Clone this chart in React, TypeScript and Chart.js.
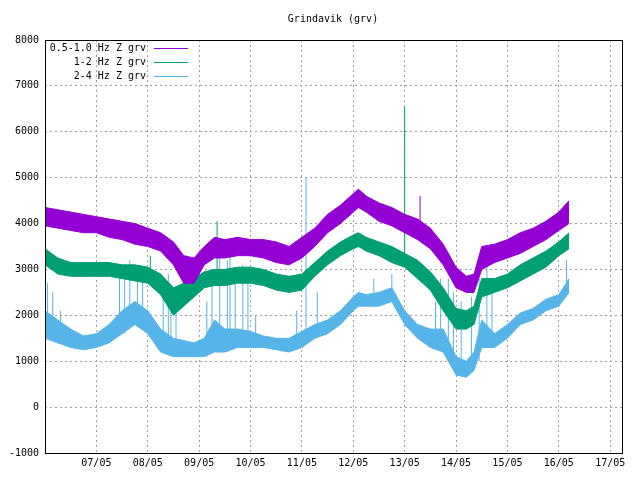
import React, { useEffect, useRef } from "react";
import { Chart, registerables } from "chart.js";
Chart.register(...registerables);

const TITLE = "Grindavik (grv)";
const LABELS = ["0.5-1.0 Hz Z grv", "1-2 Hz Z grv", "2-4 Hz Z grv"];
const COLORS = ["#9400d3", "#009e73", "#56b4e9"];
const XTICKS = [7, 8, 9, 10, 11, 12, 13, 14, 15, 16, 17];
const TICK_LABELS = ["07/05", "08/05", "09/05", "10/05", "11/05", "12/05", "13/05", "14/05", "15/05", "16/05", "17/05"];

const T = [6.0, 6.25, 6.5, 6.75, 7.0, 7.25, 7.5, 7.75, 8.0, 8.25, 8.5, 8.7, 8.9, 9.1, 9.3, 9.5, 9.75, 10.0, 10.25, 10.5, 10.75, 11.0, 11.25, 11.5, 11.75, 12.0, 12.1, 12.25, 12.5, 12.75, 13.0, 13.25, 13.5, 13.75, 14.0, 14.2, 14.35, 14.5, 14.75, 15.0, 15.25, 15.5, 15.75, 16.0, 16.2];
const P_HI = [4350, 4300, 4250, 4200, 4150, 4100, 4050, 4000, 3900, 3800, 3600, 3300, 3250, 3500, 3700, 3650, 3700, 3650, 3650, 3600, 3500, 3700, 3900, 4200, 4400, 4650, 4750, 4600, 4450, 4350, 4200, 4100, 3900, 3550, 3050, 2850, 2900, 3500, 3550, 3650, 3800, 3900, 4050, 4250, 4500];
const P_LO = [3950, 3900, 3850, 3800, 3800, 3700, 3650, 3550, 3500, 3400, 3100, 2700, 2700, 3100, 3250, 3250, 3300, 3300, 3250, 3150, 3100, 3250, 3500, 3800, 4000, 4250, 4350, 4250, 4050, 3950, 3800, 3650, 3450, 3100, 2600, 2500, 2500, 3000, 3150, 3250, 3350, 3500, 3650, 3850, 4000];
const G_HI = [3450, 3250, 3150, 3150, 3150, 3150, 3100, 3100, 3050, 2900, 2600, 2700, 2800, 2950, 3000, 3000, 3050, 3050, 3000, 2900, 2850, 2900, 3150, 3400, 3600, 3750, 3800, 3700, 3600, 3500, 3350, 3200, 2950, 2600, 2150, 2100, 2200, 2800, 2800, 2900, 3100, 3250, 3400, 3600, 3800];
const G_LO = [3100, 2900, 2850, 2850, 2850, 2850, 2800, 2750, 2700, 2450, 2000, 2200, 2400, 2600, 2650, 2650, 2700, 2700, 2650, 2550, 2500, 2550, 2850, 3100, 3300, 3450, 3500, 3400, 3300, 3150, 3050, 2800, 2550, 2100, 1700, 1700, 1800, 2400, 2500, 2600, 2750, 2900, 3050, 3300, 3450];
const B_HI = [2100, 1900, 1700, 1550, 1600, 1800, 2100, 2300, 2100, 1700, 1500, 1450, 1400, 1500, 1900, 1700, 1700, 1650, 1550, 1500, 1500, 1650, 1800, 1900, 2100, 2400, 2500, 2450, 2500, 2600, 2100, 1800, 1700, 1700, 1100, 1000, 1200, 1900, 1600, 1800, 2050, 2150, 2350, 2450, 2800];
const B_LO = [1500, 1400, 1300, 1250, 1300, 1400, 1600, 1800, 1600, 1200, 1100, 1100, 1100, 1100, 1200, 1200, 1300, 1300, 1300, 1250, 1200, 1300, 1500, 1600, 1800, 2100, 2200, 2200, 2200, 2300, 1800, 1500, 1300, 1200, 700, 650, 800, 1300, 1300, 1500, 1800, 1900, 2100, 2200, 2500];
const P_SPIKES: [number, number, number][] = [[13.3, 3900, 4600], [8.75, 2800, 3300]];
const G_SPIKES: [number, number, number][] = [[13.0, 3200, 6550], [9.35, 2700, 4050], [8.05, 2700, 3300]];
const B_SPIKES: [number, number, number][] = [
  [6.05, 1500, 2700], [6.15, 1500, 2500], [6.3, 1400, 2100], [7.45, 1600, 3000], [7.55, 1600, 2900], [7.65, 1700, 3200], [7.8, 1800, 3000], [7.9, 1700, 2800],
  [8.3, 1200, 2500], [8.4, 1200, 2900], [8.45, 1200, 2600], [8.55, 1100, 2200], [9.15, 1100, 2300], [9.25, 1200, 3000], [9.4, 1200, 3300], [9.55, 1200, 3200], [9.6, 1300, 3400], [9.7, 1300, 3000], [9.85, 1300, 3100], [9.95, 1300, 2900], [10.1, 1300, 2000],
  [10.9, 1300, 2100], [11.08, 1600, 5000], [11.3, 1600, 2500], [12.4, 2200, 2800], [12.75, 2300, 2900], [13.6, 1300, 2300], [13.7, 1300, 2800], [13.85, 1200, 2800], [13.95, 900, 2500],
  [14.1, 700, 2300], [14.3, 800, 2400], [14.45, 1000, 2800], [14.6, 1500, 3300], [14.7, 1400, 2500], [16.15, 2500, 3200],
];

function pts(y: number[]) { return T.map((t, i) => ({ x: t, y: y[i] })); }
function spikes(s: [number, number, number][]) {
  const out: any[] = [];
  s.forEach(([t, a, b]) => { out.push({ x: t, y: a }, { x: t, y: b }, { x: t, y: null }); });
  return out;
}

export default function App() {
  const ref = useRef<HTMLCanvasElement>(null);
  useEffect(() => {
    const font = "'DejaVu Sans Mono', monospace";
    const sets: any[] = [];
    const series = [[P_HI, P_LO, P_SPIKES], [G_HI, G_LO, G_SPIKES], [B_HI, B_LO, B_SPIKES]] as const;
    series.forEach(([hi, lo, sp], k) => {
      const c = COLORS[k];
      sets.push({ data: pts(hi as number[]), borderColor: c, borderWidth: 1, pointRadius: 0, fill: false });
      sets.push({ data: pts(lo as number[]), borderColor: c, borderWidth: 1, pointRadius: 0, fill: "-1", backgroundColor: c });
      sets.push({ data: spikes(sp as any), borderColor: c, borderWidth: 1, pointRadius: 0, fill: false, spanGaps: false });
    });
    const deco = {
      id: "deco",
      afterDraw(ch: any) {
        const ctx = ch.ctx;
        const a = ch.chartArea;
        ctx.save();
        ctx.strokeStyle = "#000";
        ctx.lineWidth = 1;
        ctx.strokeRect(Math.round(a.left) + 0.5, Math.round(a.top) + 0.5, Math.round(a.right - a.left), Math.round(a.bottom - a.top));
        ctx.fillStyle = "#000";
        ctx.font = `10px ${font}`;
        ctx.textAlign = "center";
        ctx.textBaseline = "middle";
        ctx.fillText(TITLE, 333, 19);
        ctx.textAlign = "right";
        LABELS.forEach((l, i) => {
          const y = 48 + i * 14;
          ctx.fillStyle = "#000";
          ctx.fillText(l, 146, y);
          ctx.strokeStyle = COLORS[i];
          ctx.beginPath();
          ctx.moveTo(154, y + 0.5);
          ctx.lineTo(188, y + 0.5);
          ctx.stroke();
        });
        ctx.restore();
      },
    };
    const chart = new Chart(ref.current!, {
      type: "line",
      data: { datasets: sets },
      plugins: [deco],
      options: {
        animation: false,
        responsive: false,
        devicePixelRatio: 1,
        layout: { padding: { top: 40, right: 18, left: 0, bottom: 0 } },
        plugins: { legend: { display: false }, tooltip: { enabled: false } },
        scales: {
          x: {
            type: "linear", min: 6, max: 17.23,
            afterBuildTicks: (s: any) => { s.ticks = XTICKS.map((v) => ({ value: v })); },
            afterFit: (s: any) => { s.height = 27; },
            ticks: { callback: (v: any) => TICK_LABELS[XTICKS.indexOf(v)] ?? "", color: "#000", font: { family: font, size: 10 }, maxRotation: 0, padding: 4 },
            grid: { color: "#a0a0a0", drawTicks: false } as any,
            border: { display: false, dash: [2, 3] } as any,
          },
          y: {
            min: -1000, max: 8000,
            afterFit: (s: any) => { s.width = 45; },
            ticks: { stepSize: 1000, callback: (v: any) => String(v), color: "#000", font: { family: font, size: 10 }, padding: 6 },
            grid: { color: "#a0a0a0", drawTicks: false } as any,
            border: { display: false, dash: [2, 3] } as any,
          },
        },
      },
    });
    return () => chart.destroy();
  }, []);
  return (
    <div style={{ position: "fixed", left: 0, top: 0, width: 640, height: 480, background: "#fff" }}>
      <canvas ref={ref} width={640} height={480} />
    </div>
  );
}
